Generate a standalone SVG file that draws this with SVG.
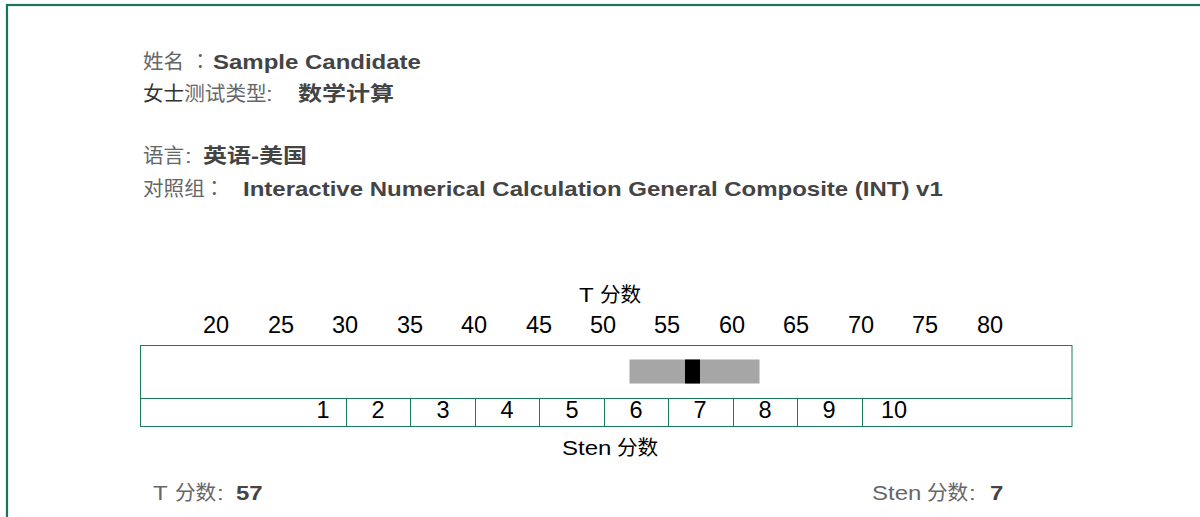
<svg xmlns="http://www.w3.org/2000/svg" width="1200" height="517" viewBox="0 0 1200 517">
<style>
text{font-family:"Liberation Sans","Noto Sans CJK SC",Arial,sans-serif;font-size:20px}
.lbl{fill:#666}
.dk{fill:#000}
.cc{font-family:"Noto Sans CJK JP","Noto Sans CJK SC",sans-serif}
.val{fill:#444;font-weight:bold}
.num{fill:#000;text-anchor:middle;font-size:23.5px}
.grid{fill:none;stroke:#1b7a5e;stroke-width:1}
</style>
<rect x="7" y="5" width="1220" height="560" fill="#fff" stroke="#1b735a" stroke-width="2.2"/>
<g id="header">
<text transform="matrix(1.03 0 0 1 143 69)" class="lbl">姓名</text>
<text transform="matrix(1.03 0 0 1 190 69)" class="lbl cc">：</text>
<text transform="matrix(1.2 0 0 1 213 69)" class="val">Sample Candidate</text>
<text transform="matrix(1.03 0 0 1 143 101)" class="lbl"><tspan fill="#333">女士</tspan>测试类型</text>
<text transform="matrix(1.2 0 0 1 266 101)" class="lbl">:</text>
<text transform="matrix(1.2 0 0 1 298 101)" class="val">数学计算</text>
<text transform="matrix(1.03 0 0 1 143 163)" class="lbl">语言</text>
<text transform="matrix(1.2 0 0 1 185 163)" class="lbl">:</text>
<text transform="matrix(1.2 0 0 1 203 163)" class="val">英语-美国</text>
<text transform="matrix(1.03 0 0 1 143 196)" class="lbl">对照组</text>
<text transform="matrix(1.03 0 0 1 204 196)" class="lbl cc">：</text>
<text transform="matrix(1.2 0 0 1 243 196)" class="val">Interactive Numerical Calculation General Composite (INT) v1</text>
</g>
<g id="t-scale">
<text transform="matrix(1.2 0 0 1 579 302)" class="dk">T</text>
<text transform="matrix(1.03 0 0 1 600 302)" class="dk">分数</text>
<text x="216" y="333" class="num">20</text>
<text x="281" y="333" class="num">25</text>
<text x="345" y="333" class="num">30</text>
<text x="410" y="333" class="num">35</text>
<text x="474" y="333" class="num">40</text>
<text x="539" y="333" class="num">45</text>
<text x="603" y="333" class="num">50</text>
<text x="667" y="333" class="num">55</text>
<text x="732" y="333" class="num">60</text>
<text x="796" y="333" class="num">65</text>
<text x="861" y="333" class="num">70</text>
<text x="925" y="333" class="num">75</text>
<text x="990" y="333" class="num">80</text>
</g>
<g id="chart">
<rect x="140.5" y="345.5" width="931.5" height="81" class="grid"/>
<line x1="140.5" y1="398.5" x2="1072" y2="398.5" class="grid"/>
<line x1="346.5" y1="398.5" x2="346.5" y2="426.5" class="grid"/>
<line x1="410.5" y1="398.5" x2="410.5" y2="426.5" class="grid"/>
<line x1="475.5" y1="398.5" x2="475.5" y2="426.5" class="grid"/>
<line x1="539.5" y1="398.5" x2="539.5" y2="426.5" class="grid"/>
<line x1="604.5" y1="398.5" x2="604.5" y2="426.5" class="grid"/>
<line x1="668.5" y1="398.5" x2="668.5" y2="426.5" class="grid"/>
<line x1="733.5" y1="398.5" x2="733.5" y2="426.5" class="grid"/>
<line x1="797.5" y1="398.5" x2="797.5" y2="426.5" class="grid"/>
<line x1="862.5" y1="398.5" x2="862.5" y2="426.5" class="grid"/>
<rect id="band" x="629.5" y="359.5" width="130" height="24" fill="#a6a6a6"/>
<rect id="score" x="685" y="359.5" width="15" height="24" fill="#000"/>
</g>
<g id="sten-scale">
<text x="323" y="418" class="num">1</text>
<text x="378" y="418" class="num">2</text>
<text x="443" y="418" class="num">3</text>
<text x="507" y="418" class="num">4</text>
<text x="572" y="418" class="num">5</text>
<text x="636" y="418" class="num">6</text>
<text x="700" y="418" class="num">7</text>
<text x="765" y="418" class="num">8</text>
<text x="829" y="418" class="num">9</text>
<text x="894" y="418" class="num">10</text>
<text transform="matrix(1.2 0 0 1 562 455)" class="dk">Sten</text>
<text transform="matrix(1.03 0 0 1 617 455)" class="dk">分数</text>
</g>
<g id="footer">
<text transform="matrix(1.2 0 0 1 153 500)" class="lbl">T</text>
<text transform="matrix(1.03 0 0 1 175 500)" class="lbl">分数</text>
<text transform="matrix(1.2 0 0 1 217 500)" class="lbl">:</text>
<text transform="matrix(1.2 0 0 1 236 500)" class="val">57</text>
<text transform="matrix(1.2 0 0 1 872 500)" class="lbl">Sten</text>
<text transform="matrix(1.03 0 0 1 927 500)" class="lbl">分数</text>
<text transform="matrix(1.2 0 0 1 969 500)" class="lbl">:</text>
<text transform="matrix(1.2 0 0 1 990 500)" class="val">7</text>
</g>
</svg>
